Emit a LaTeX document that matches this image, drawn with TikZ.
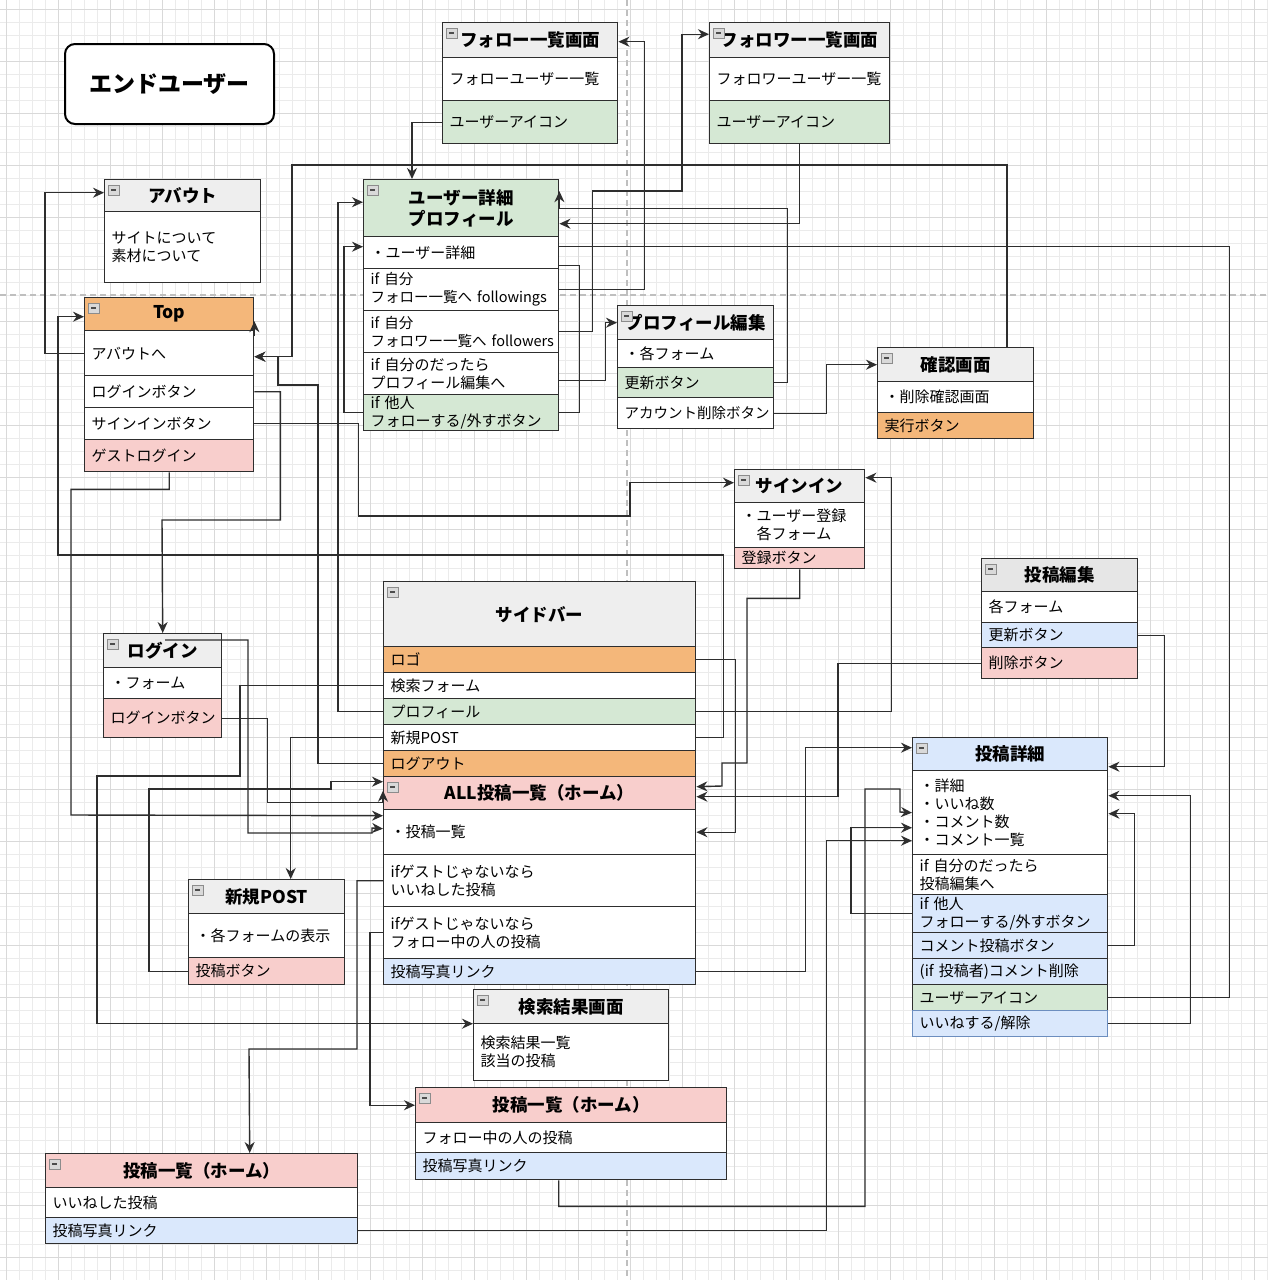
\documentclass[tikz,border=0pt]{standalone}
\usepackage{fontspec}
\setmainfont{Noto Sans CJK JP}
\usetikzlibrary{arrows.meta,calc}
\definecolor{hgray}{HTML}{EEEEEE}
\definecolor{hgrayb}{HTML}{E6E6E6}
\definecolor{cgreen}{HTML}{D5E8D4}
\definecolor{corange}{HTML}{F4B77A}
\definecolor{cpink}{HTML}{F8CECC}
\definecolor{cblue}{HTML}{DAE8FC}
\definecolor{cblueb}{HTML}{6C8EBF}
\definecolor{cline}{HTML}{2E2E2E}
\tikzset{
  boxline/.style={draw=cline, line width=1.4pt},
  rowst/.style={boxline, rectangle, anchor=north west, inner xsep=7pt, inner ysep=0.5pt, align=left, font=\fontsize{15}{18}\selectfont},
  headst/.style={boxline, rectangle, anchor=north west, inner sep=1pt, align=center, font=\bfseries\fontsize{17.5}{21}\selectfont},
  arr/.style={draw=cline, line width=1.4pt, -{Stealth[length=11pt,width=10pt]}},
  conn/.style={draw=cline, line width=1.4pt},
  gridminor/.style={draw=black!8, line width=0.7pt},
  gridmajor/.style={draw=black!15, line width=1pt},
  pagebreak/.style={draw=black!25, line width=1.5pt, dash pattern=on 6pt off 4pt},
  miniicon/.style={draw=black!45, fill=black!15, line width=0.6pt},
  minibar/.style={draw=black!70, line width=1.3pt},
}
\newcommand\mini[1]{\draw[miniicon] ($(#1.north west)+(4,6)$) rectangle ++(11,10); \draw[minibar] ($(#1.north west)+(7,11)$) -- ++(5,0);}
\newcommand\rowb[7]{\node[rowst, fill=#6, minimum width=#4pt, minimum height=#5pt, text width=\the\numexpr#4-14\relax pt] (#1) at (#2,#3) {#7};}
\newcommand\headb[7]{\node[headst, fill=#6, minimum width=#4pt, minimum height=#5pt] (#1) at (#2,#3) {#7}; \mini{#1}}
\begin{document}
\begin{tikzpicture}[x=1pt,y=-1pt]
\useasboundingbox (0,0) rectangle (1268,1280);
\fill[white] (0,0) rectangle (1268,1280);
\foreach \gx in {6,19,...,1268} \draw[gridminor] (\gx,0) -- (\gx,1280);
\foreach \gy in {9,22,...,1280} \draw[gridminor] (0,\gy) -- (1268,\gy);
\foreach \gx in {6,58,...,1268} \draw[gridmajor] (\gx,0) -- (\gx,1280);
\foreach \gy in {9,61,...,1280} \draw[gridmajor] (0,\gy) -- (1268,\gy);
\draw[pagebreak] (627,0) -- (627,1280);
\draw[pagebreak] (0,295) -- (1268,295);

% End user
\node[draw=black, line width=2pt, rounded corners=10pt, fill=white, anchor=north west, minimum width=209pt, minimum height=80pt, font=\bfseries\fontsize{23}{27}\selectfont] (EU) at (64,43) {エンドユーザー};

% About
\headb{Abh}{104}{179}{156}{32}{hgray}{アバウト}
\rowb{Abr1}{104}{211}{156}{71}{white}{サイトについて\\素材について}

% Top
\headb{Toph}{84}{297}{169}{33}{corange}{Top}
\rowb{Topr1}{84}{330}{169}{45}{white}{アバウトへ}
\rowb{Topr2}{84}{375}{169}{32}{white}{ログインボタン}
\rowb{Topr3}{84}{407}{169}{32}{white}{サインインボタン}
\rowb{Topr4}{84}{439}{169}{32}{cpink}{ゲストログイン}

% User detail
\headb{UDh}{363}{179}{195}{57}{cgreen}{ユーザー詳細\\プロフィール}
\rowb{UDr1}{363}{236}{195}{32}{white}{・ユーザー詳細}
\rowb{UDr2}{363}{268}{195}{42}{white}{\fontsize{14.5}{18}\selectfont if~自分\\\mbox{フォロー一覧へ~followings}}
\rowb{UDr3}{363}{310}{195}{42}{white}{\fontsize{14.5}{18}\selectfont if~自分\\\mbox{フォロワー一覧へ~followers}}
\rowb{UDr4}{363}{352}{195}{42}{white}{if~自分のだったら\\プロフィール編集へ}
\rowb{UDr5}{363}{394}{195}{36}{cgreen}{if~他人\\フォローする/外すボタン}

% Follow list
\headb{FLh}{442}{22}{175}{35}{hgray}{フォロー一覧画面}
\rowb{FLr1}{442}{57}{175}{43}{white}{フォローユーザー一覧}
\rowb{FLr2}{442}{100}{175}{43}{cgreen}{ユーザーアイコン}

% Follower list
\headb{FWh}{709}{22}{180}{35}{hgray}{フォロワー一覧画面}
\rowb{FWr1}{709}{57}{180}{43}{white}{フォロワーユーザー一覧}
\rowb{FWr2}{709}{100}{180}{43}{cgreen}{ユーザーアイコン}

% Profile edit
\headb{PEh}{617}{305}{156}{34}{hgray}{プロフィール編集}
\rowb{PEr1}{617}{339}{156}{28}{white}{・各フォーム}
\rowb{PEr2}{617}{367}{156}{30}{cgreen}{更新ボタン}
\rowb{PEr3}{617}{397}{156}{31}{white}{\fontsize{14.5}{18}\selectfont アカウント削除ボタン}

% Confirm
\headb{CFh}{877}{347}{156}{34}{hgray}{確認画面}
\rowb{CFr1}{877}{381}{156}{31}{white}{・削除確認画面}
\rowb{CFr2}{877}{412}{156}{26}{corange}{実行ボタン}

% Sign in
\headb{SIh}{734}{469}{130}{33}{hgray}{サインイン}
\rowb{SIr1}{734}{502}{130}{45}{white}{・ユーザー登録\\　各フォーム}
\rowb{SIr2}{734}{547}{130}{21}{cpink}{登録ボタン}

% Post edit
\headb{PEdh}{981}{558}{156}{33}{hgrayb}{投稿編集}
\rowb{PEdr1}{981}{591}{156}{31}{white}{各フォーム}
\rowb{PEdr2}{981}{622}{156}{25}{cblue}{更新ボタン}
\rowb{PEdr3}{981}{647}{156}{31}{cpink}{削除ボタン}

% Sidebar
\headb{SBh}{383}{581}{312}{65}{hgray}{サイドバー}
\rowb{SBr1}{383}{646}{312}{26}{corange}{ロゴ}
\rowb{SBr2}{383}{672}{312}{26}{white}{検索フォーム}
\rowb{SBr3}{383}{698}{312}{26}{cgreen}{プロフィール}
\rowb{SBr4}{383}{724}{312}{26}{white}{新規POST}
\rowb{SBr5}{383}{750}{312}{26}{corange}{ログアウト}

% ALL posts
\headb{ALLh}{383}{776}{312}{33}{cpink}{ALL投稿一覧（ホーム）}
\rowb{ALLr1}{383}{809}{312}{45}{white}{・投稿一覧}
\rowb{ALLr2}{383}{854}{312}{52}{white}{ifゲストじゃないなら\\いいねした投稿}
\rowb{ALLr3}{383}{906}{312}{52}{white}{ifゲストじゃないなら\\フォロー中の人の投稿}
\rowb{ALLr4}{383}{958}{312}{26}{cblue}{投稿写真リンク}

% Login
\headb{LGh}{103}{633}{118}{34}{hgray}{ログイン}
\rowb{LGr1}{103}{667}{118}{31}{white}{・フォーム}
\rowb{LGr2}{103}{698}{118}{39}{cpink}{ログインボタン}

% New post
\headb{NPh}{188}{879}{156}{34}{hgray}{新規POST}
\rowb{NPr1}{188}{913}{156}{44}{white}{・各フォームの表示}
\rowb{NPr2}{188}{957}{156}{27}{cpink}{投稿ボタン}

% Post detail
\headb{PDh}{912}{737}{195}{33}{cblue}{投稿詳細}
\rowb{PDr1}{912}{770}{195}{84}{white}{・詳細\\・いいね数\\・コメント数\\・コメント一覧}
\rowb{PDr2}{912}{854}{195}{40}{white}{if~自分のだったら\\投稿編集へ}
\rowb{PDr3}{912}{894}{195}{38}{cblue}{if~他人\\フォローする/外すボタン}
\rowb{PDr4}{912}{932}{195}{26}{cblue}{コメント投稿ボタン}
\rowb{PDr5}{912}{958}{195}{26}{cblue}{(if~投稿者)コメント削除}
\rowb{PDr6}{912}{984}{195}{26}{cgreen}{ユーザーアイコン}
\node[rowst, draw=cblueb, fill=cblue, minimum width=195pt, minimum height=26pt, text width=181pt] (PDr7) at (912,1010) {いいねする/解除};

% Search result
\headb{SRh}{473}{989}{195}{34}{hgray}{検索結果画面}
\rowb{SRr1}{473}{1023}{195}{57}{white}{検索結果一覧\\該当の投稿}

% Post list (follow)
\headb{PHAh}{415}{1087}{311}{35}{cpink}{投稿一覧（ホーム）}
\rowb{PHAr1}{415}{1122}{311}{30}{white}{フォロー中の人の投稿}
\rowb{PHAr2}{415}{1152}{311}{27}{cblue}{投稿写真リンク}

% Post list (likes)
\headb{PHBh}{45}{1153}{312}{34}{cpink}{投稿一覧（ホーム）}
\rowb{PHBr1}{45}{1187}{312}{30}{white}{いいねした投稿}
\rowb{PHBr2}{45}{1217}{312}{26}{cblue}{投稿写真リンク}

% Connectors
\draw[arr] (FLr2.west) -| ([xshift=49pt]UDh.north west);
\draw[arr] (UDr2.east) -- ++(85,0) |- ([yshift=-1.5pt]FLh.east);
\draw[arr] (UDr3.east) -- ++(33,0) |- (682,191) |- ([yshift=6pt]FWh.west);
\draw[arr] (FWr2.south) |- ([yshift=-15.5pt]UDh.east);
\draw[arr] (PEr2.east) -- ++(13,0) |- (UDh.east) -- ++(0,-17);
\draw[arr] ([xshift=130pt]CFh.north west) |- (292,165) |- ([yshift=-3.5pt]Topr1.east);
\draw[arr] (SBr5.west) -- ++(-65,0) |- (278,385) |- ([yshift=-3.5pt]Topr1.east);
\draw[arr] (SBr3.west) -- ++(-45,0) |- ([yshift=6pt]UDh.west);
\draw[arr] (UDr5.west) -- ++(-19,0) |- ([yshift=6pt]UDr1.west);
\draw[conn] (UDr5.east) -- ++(20,0) |- ([yshift=-13pt]UDr1.east);
\draw[arr] ([yshift=-7pt]UDr4.east) -- ++(46,0) |- (PEh.west);
\draw[arr] (PEr3.east) -- ++(52,0) |- (CFh.west);
\draw[arr] (Topr2.east) -- ++(26,0) |- (162,520) -- (LGh.north);
\draw[arr] (Topr3.east) -- ++(104,0) |- (630,516) |- ([yshift=3.5pt]SIh.west);
\draw[arr] (Topr4.south) -- ++(0,17) -| (71,815) -- ([yshift=16.5pt]ALLr1.west);
\draw[arr] (Topr1.west) -- ++(-39,0) |- ([yshift=3pt]Abh.west);
\draw[arr] (SBr4.east) -- ++(27,0) |- (58,555) |- ([yshift=-2.5pt]Toph.west);
\draw[arr] ([yshift=-6pt]Topr1.north east) -- ([yshift=-7pt]Toph.east);
\draw[arr] (SBr4.west) -| ([xshift=24pt]NPh.north);
\draw[arr] (SBr1.east) -- ++(39,0) |- (ALLr1.east);
\draw[arr] (SIr2.south) -- ++(0,29) -| (747,763) -| (722,786) -- ([yshift=6.5pt]ALLh.east);
\draw[arr] (SBr3.east) -- ++(195,0) |- ([yshift=8.5pt]SIh.east);
\draw[arr] (PEdr3.west) -- ++(-143,0) |- ([yshift=-3.5pt]ALLh.east);
\draw[arr] (ALLr4.east) -- ++(109,0) |- ([yshift=6.5pt]PDh.west);
\draw[arr] ([xshift=-12.5pt]PHAr2.south) -- ++(0,26) -| (865,789) -| (900,812) -- (PDr1.west);
\draw[arr] (PHBr2.east) -- ++(468,0) |- ([yshift=-28pt]PDr1.west);
\draw[arr] (PDr3.west) -- ++(-61,0) |- ([yshift=-15pt]PDr1.west);
\draw[arr] (PEdr2.east) -- ++(26,0) |- ([yshift=-12.5pt]PDh.east);
\draw[arr] (PDr7.east) -- ++(82,0) |- ([yshift=17pt]PDr1.east);
\draw[arr] (PDr4.east) -- ++(26,0) |- ([yshift=-1pt]PDr1.east);
\draw[conn] (PDr6.east) -- ++(121,0) |- ([yshift=6pt]UDr1.east);
\draw[arr] (SBr2.west) -- ++(-143,0) |- (97,776) |- ([yshift=-17pt]SRh.west);
\draw[arr] (LGr2.east) -- ++(45,0) |- ([yshift=-9.5pt]ALLh.west) -- ([yshift=2.5pt]ALLh.west);
\draw[arr] (NPr2.west) -- ++(-39,0) |- (331,789) |- ([yshift=11.5pt]ALLh.west);
\draw[arr] ([shift={(62pt,-7pt)}]LGh.north west) -| (248,833) -| (372,828) -- ([yshift=3.5pt]ALLr1.west);
\draw[arr] (ALLr2.west) -- ++(-26,0) |- (249,1049) -- ([xshift=48pt]PHBh.north);
\draw[arr] (ALLr3.west) -- ++(-13,0) |- (PHAh.west);
\end{tikzpicture}
\end{document}
